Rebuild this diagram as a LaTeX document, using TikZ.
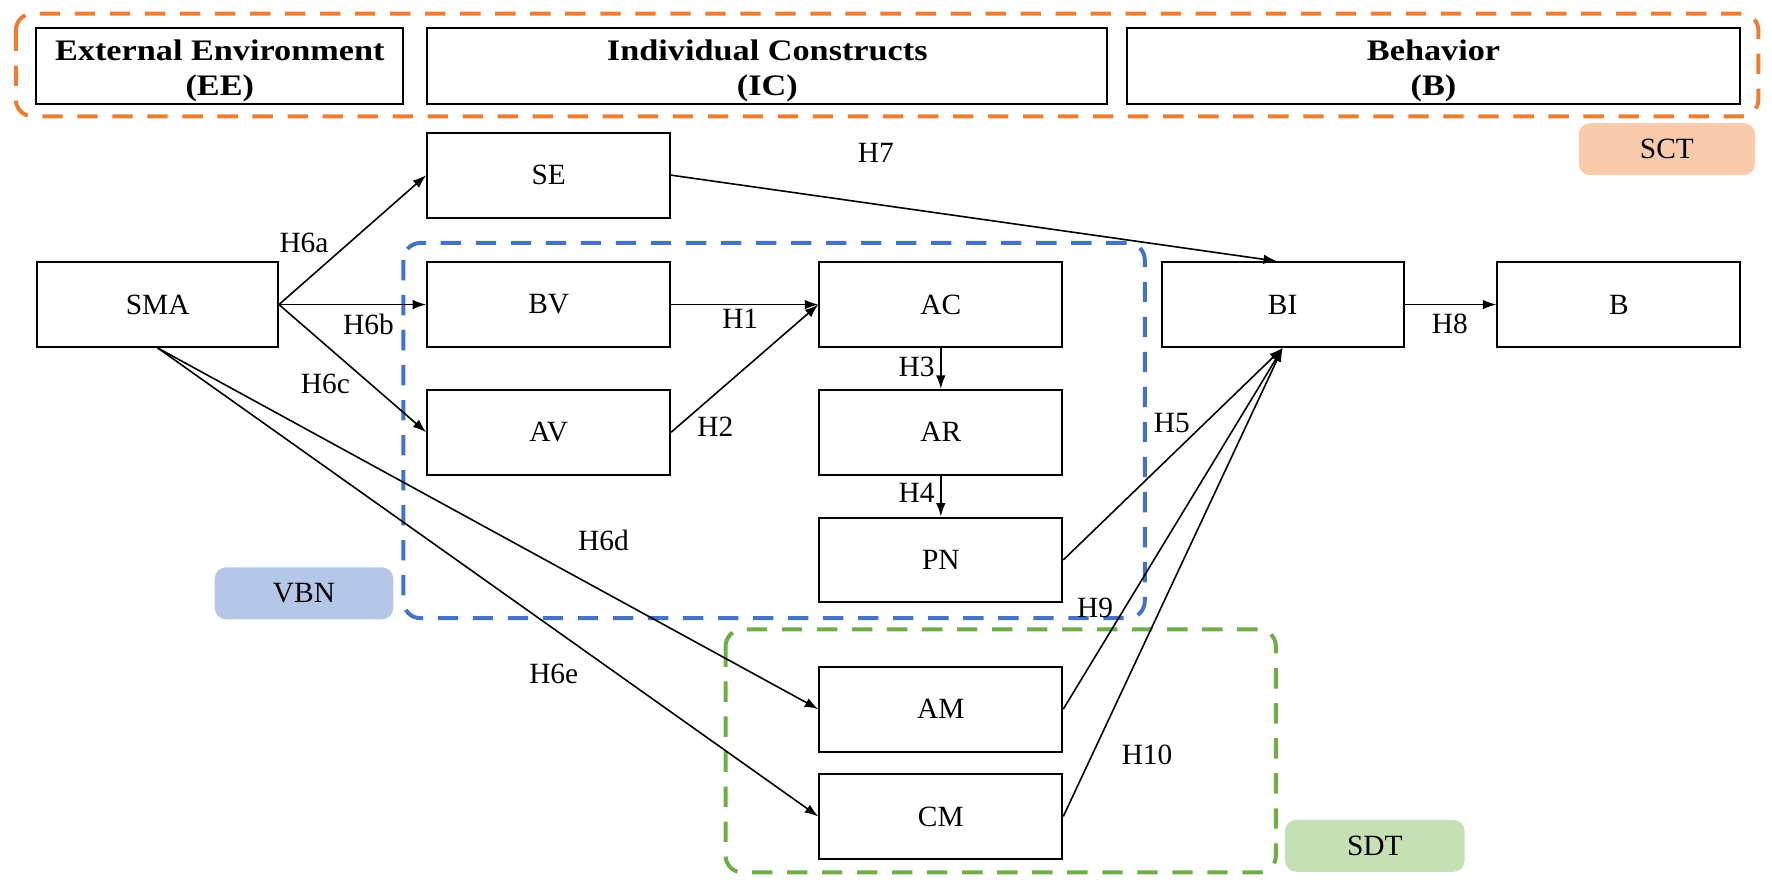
\documentclass[tikz,border=0pt]{standalone}
\usepackage{fontspec}
\setmainfont{Liberation Serif}
\newfontfamily\hdrfont[FakeStretch=1.15]{Liberation Serif}
\usetikzlibrary{arrows.meta}
\definecolor{orgline}{HTML}{ED7D31}
\definecolor{bluline}{HTML}{4472C4}
\definecolor{grnline}{HTML}{70AD47}
\definecolor{orgfill}{HTML}{F8CBAD}
\definecolor{blufill}{HTML}{B4C7E7}
\definecolor{grnfill}{HTML}{C5E0B4}
\begin{document}
\begin{tikzpicture}[x=0.02cm,y=-0.02cm,
  txt/.style={font=\fontsize{14.8}{16}\selectfont},
  cbox/.style={txt,draw,line width=1pt,minimum width=4.3cm,minimum height=1.5cm,inner sep=0pt},
  hbox/.style={draw,line width=1pt,minimum height=1.34cm,inner sep=0pt},
  htxt/.style={inner sep=0pt,align=center,font=\hdrfont\fontsize{15}{17.5}\selectfont\bfseries},
  tagbox/.style={txt,rounded corners=0.2cm,inner sep=0pt,minimum height=0.92cm,minimum width=3.12cm},
  frame/.style={line width=2pt,dash pattern=on 0.36cm off 0.26cm,rounded corners=0.3cm},
  arr/.style={line width=0.8pt,-{Latex[length=0.24cm,width=0.17cm]}},
  lbl/.style={txt,inner sep=0pt}]
\useasboundingbox (0,0) rectangle (1568,787);
% frames
\draw[frame,orgline] (14,12) rectangle (1556,103);
\draw[frame,bluline] (357,215) rectangle (1013,547);
\draw[frame,grnline] (642,557) rectangle (1129,772);
% header boxes
\node[hbox,minimum width=6.5cm] (ee) at (194.5,58.5) {};
\node[hbox,minimum width=12.04cm] (ic) at (679,58.5) {};
\node[hbox,minimum width=10.86cm] (bh) at (1268.5,58.5) {};
\node[htxt] (eet) at ([yshift=-0.09cm]ee.center) {External Environment\\(EE)};
\node[htxt] (ict) at ([yshift=-0.09cm]ic.center) {Individual Constructs\\(IC)};
\node[htxt] (bht) at ([yshift=-0.09cm]bh.center) {Behavior\\(B)};
% tags
\node[tagbox,fill=orgfill] (sct) at (1475,132) {SCT};
\node[tagbox,fill=blufill,minimum width=3.16cm] (vbn) at (269,525) {VBN};
\node[tagbox,fill=grnfill,minimum width=3.18cm] (sdt) at (1216.5,748.5) {SDT};
% construct boxes
\node[cbox] (se) at (485.5,155) {SE};
\node[cbox,minimum width=4.26cm] (sma) at (139.5,269.5) {SMA};
\node[cbox] (bv) at (485.5,269.5) {BV};
\node[cbox] (av) at (485.5,382.5) {AV};
\node[cbox] (ac) at (832.5,269.5) {AC};
\node[cbox] (ar) at (832.5,382.5) {AR};
\node[cbox] (pn) at (832.5,495.5) {PN};
\node[cbox,minimum width=4.28cm] (bi) at (1135,269.5) {BI};
\node[cbox] (b) at (1432.5,269.5) {B};
\node[cbox] (am) at (832.5,627.5) {AM};
\node[cbox] (cm) at (832.5,722.5) {CM};
% connectors
\draw[arr] (sma.east) -- (se.west);
\draw[arr] (sma.east) -- (bv.west);
\draw[arr] (sma.east) -- (av.west);
\draw[arr] (sma.south) -- (am.west);
\draw[arr] (sma.south) -- (cm.west);
\draw[arr] (se.east) -- ([xshift=-0.1cm]bi.north);
\draw[arr] (bv.east) -- (ac.west);
\draw[arr] (av.east) -- (ac.west);
\draw[arr] (ac.south) -- (ar.north);
\draw[arr] (ar.south) -- (pn.north);
\draw[arr] (pn.east) -- (bi.south);
\draw[arr] (am.east) -- (bi.south);
\draw[arr] (cm.east) -- (bi.south);
\draw[arr] (bi.east) -- (b.west);
% labels
\node[lbl] (l6a) at (269,215) {H6a};
\node[lbl] (l6b) at (326,287) {H6b};
\node[lbl] (l6c) at (288,340) {H6c};
\node[lbl] (l6d) at (534,478) {H6d};
\node[lbl] (l6e) at (490,596) {H6e};
\node[lbl] (l1) at (655,282) {H1};
\node[lbl] (l2) at (633,378) {H2};
\node[lbl] (l3) at (811,325) {H3};
\node[lbl] (l4) at (811,436) {H4};
\node[lbl] (l5) at (1037,374) {H5};
\node[lbl] (l7) at (775,135) {H7};
\node[lbl] (l8) at (1283,287) {H8};
\node[lbl] (l9) at (969,538) {H9};
\node[lbl] (l10) at (1015,668) {H10};
\end{tikzpicture}
\end{document}
